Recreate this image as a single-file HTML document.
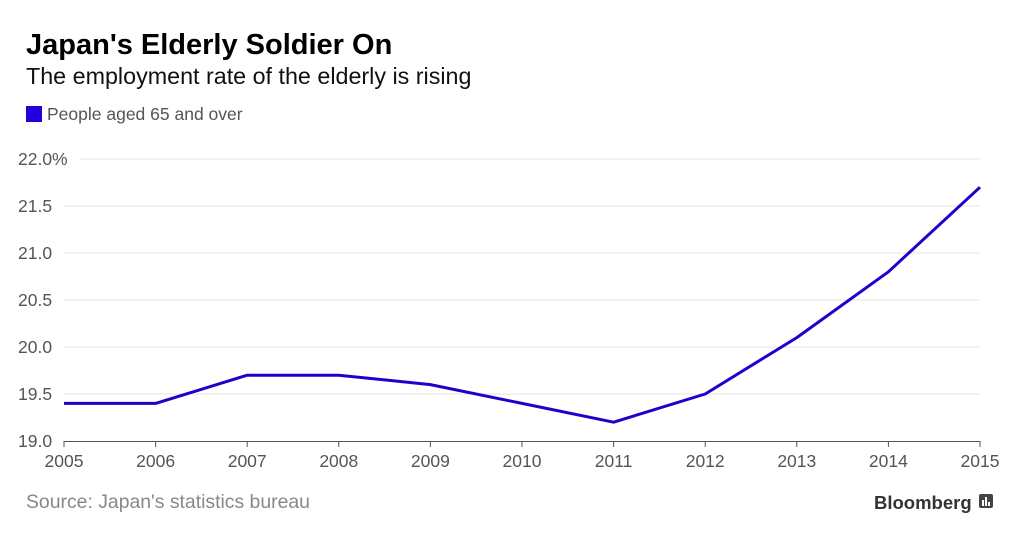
<!DOCTYPE html>
<html><head><meta charset="utf-8"><style>
body{margin:0;width:1020px;height:540px;background:#fff;font-family:"Liberation Sans",sans-serif;overflow:hidden}
</style></head><body>
<svg width="1020" height="540" style="position:absolute;left:0;top:0">
<text x="26" y="54" font-size="29" font-weight="bold" fill="#000">Japan's Elderly Soldier On</text>
<text x="26" y="84" font-size="23.3" fill="#111">The employment rate of the elderly is rising</text>
<g>
<rect x="26" y="106" width="16" height="16" fill="#2200dd"/>
<text x="47" y="120" font-size="17.5" fill="#555">People aged 65 and over</text>
</g>
<g id="grid"></g><g id="xaxis"></g>
<path id="line" fill="none" stroke="#2200cc" stroke-width="3" stroke-linejoin="round"/>
<text x="26" y="508" font-size="19.4" fill="#888">Source: Japan's statistics bureau</text>
<text x="874" y="509" font-size="18.5" font-weight="bold" fill="#333">Bloomberg</text>
<g>
<rect x="979" y="494" width="14" height="14" rx="2" fill="#444"/>
<rect x="982" y="500" width="2" height="6" fill="#fff"/><rect x="985" y="497" width="2" height="9" fill="#fff"/><rect x="988" y="502" width="2" height="4" fill="#fff"/>
</g>
</svg>
<script>
const years=[2005,2006,2007,2008,2009,2010,2011,2012,2013,2014,2015];
const values=[19.4,19.4,19.7,19.7,19.6,19.4,19.2,19.5,20.1,20.8,21.7];
const yTicks=[19.0,19.5,20.0,20.5,21.0,21.5,22.0];
const yLabels=["19.0","19.5","20.0","20.5","21.0","21.5","22.0%"];
const NS="http://www.w3.org/2000/svg";
const x=i=>64+(980-64)*(years[i]-years[0])/(years[years.length-1]-years[0]);
const y=v=>441-(v-19)*(441-159)/3;
const grid=document.getElementById('grid');
yTicks.forEach((t,i)=>{
 if(i>0){const l=document.createElementNS(NS,'line');
 l.setAttribute('x1',i===yTicks.length-1?80:64);l.setAttribute('x2',980);l.setAttribute('y1',y(t));l.setAttribute('y2',y(t));
 l.setAttribute('stroke','#e6e6e6');l.setAttribute('stroke-width','1');
 
 
 grid.appendChild(l);}
 const tx=document.createElementNS(NS,'text');
 tx.setAttribute('x',18);tx.setAttribute('y',y(t)+6);tx.setAttribute('font-size','17.5');tx.setAttribute('fill','#555');
 tx.textContent=yLabels[i];
 
 
 grid.appendChild(tx);
});
const xa=document.getElementById('xaxis');
const base=document.createElementNS(NS,'line');
base.setAttribute('x1',64);base.setAttribute('x2',980);base.setAttribute('y1',441.5);base.setAttribute('y2',441.5);base.setAttribute('stroke','#555');


xa.appendChild(base);
years.forEach((yr,i)=>{
 const t=document.createElementNS(NS,'line');
 t.setAttribute('x1',x(i));t.setAttribute('x2',x(i));t.setAttribute('y1',441);t.setAttribute('y2',447);t.setAttribute('stroke','#555');
 
 
 xa.appendChild(t);
 const tx=document.createElementNS(NS,'text');
 tx.setAttribute('x',x(i));tx.setAttribute('y',467);tx.setAttribute('font-size','17.5');tx.setAttribute('fill','#555');tx.setAttribute('text-anchor','middle');
 tx.textContent=yr;
 
 
 xa.appendChild(tx);
});
document.getElementById('line').setAttribute('d',values.map((v,i)=>(i?'L':'M')+x(i)+','+y(v)).join(''));
</script>
</body></html>
